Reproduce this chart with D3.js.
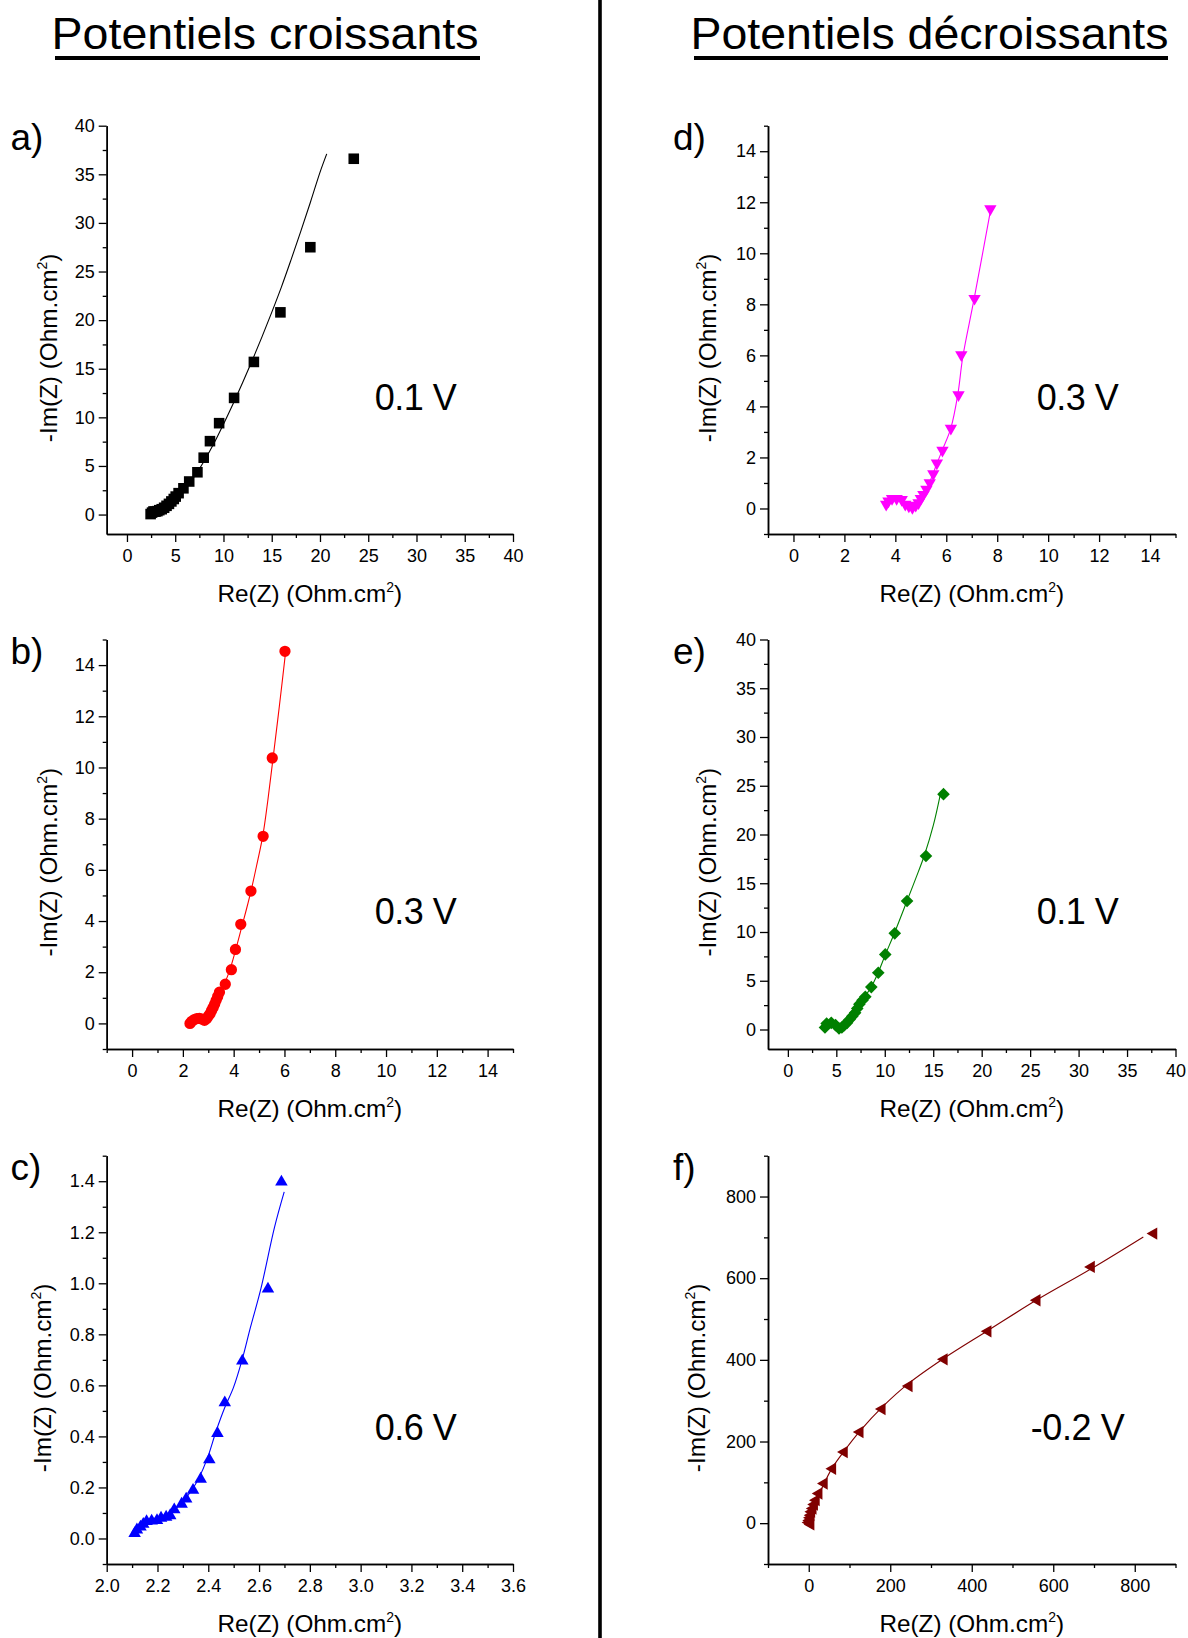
<!DOCTYPE html>
<html><head><meta charset="utf-8">
<script src="https://cdn.jsdelivr.net/npm/d3@7"></script>
<style>
body{margin:0;background:#fff;}
svg text{font-family:"Liberation Sans",Arial,Helvetica,sans-serif;fill:#000;}
</style></head><body>
<svg id="chart" width="1188" height="1638"></svg>
<script>
// ---------- data: [Re(Z), -Im(Z)] in Ohm.cm2 ----------
const pointsA = [[2.45,0.05],[2.6,0.2],[2.75,0.32],[2.95,0.3],[3.15,0.35],[3.35,0.45],[3.6,0.55],[3.85,0.7],[4.1,0.9],[4.35,1.1],[4.6,1.35],[4.85,1.6],[5.05,1.85],[5.35,2.2],[5.85,2.7],[6.45,3.4],[7.3,4.35],[7.95,5.85],[8.6,7.55],[9.55,9.4],[11.1,12.0],[13.15,15.7],[15.9,20.8],[19.0,27.5],[23.5,36.6]];
const fitA = [[2.5,0.05],[3.0,0.2],[3.5,0.45],[4.0,0.75],[4.5,1.1],[5.0,1.55],[5.5,2.05],[6.0,2.6],[6.5,3.25],[7.0,3.95],[7.5,4.7],[8.0,5.5],[9.0,7.3],[10.0,9.3],[11.0,11.4],[12.0,13.6],[13.0,15.9],[14.0,18.3],[15.0,20.8],[16.0,23.4],[17.0,26.2],[18.0,29.1],[19.0,32.1],[20.0,35.2],[20.7,37.1]];

const pointsB = [[2.28,0.0],[2.35,0.08],[2.45,0.15],[2.55,0.19],[2.65,0.2],[2.75,0.17],[2.85,0.12],[2.93,0.18],[3.0,0.28],[3.07,0.38],[3.13,0.5],[3.19,0.62],[3.25,0.75],[3.31,0.9],[3.37,1.05],[3.44,1.22],[3.67,1.53],[3.91,2.1],[4.07,2.89],[4.28,3.87],[4.68,5.17],[5.16,7.31],[5.52,10.37],[6.02,14.54]];
const fitB = [[2.3,0.0],[2.45,0.12],[2.6,0.18],[2.75,0.16],[2.9,0.18],[3.05,0.35],[3.2,0.62],[3.35,0.95],[3.5,1.3],[3.7,1.7],[3.9,2.25],[4.1,2.95],[4.3,3.7],[4.5,4.45],[4.7,5.25],[4.9,6.15],[5.15,7.35],[5.35,8.75],[5.55,10.35],[5.8,12.4],[6.05,14.55]];

const pointsC = [[2.11,0.02],[2.119,0.034],[2.133,0.045],[2.144,0.056],[2.157,0.067],[2.177,0.069],[2.198,0.071],[2.214,0.08],[2.234,0.084],[2.25,0.09],[2.266,0.113],[2.295,0.135],[2.313,0.155],[2.34,0.189],[2.37,0.233],[2.404,0.309],[2.436,0.412],[2.465,0.532],[2.534,0.696],[2.635,0.978],[2.688,1.397]];
const fitC = [[2.112,0.025],[2.146,0.06],[2.173,0.073],[2.214,0.087],[2.255,0.106],[2.295,0.139],[2.336,0.191],[2.363,0.237],[2.397,0.316],[2.431,0.421],[2.465,0.513],[2.499,0.591],[2.534,0.703],[2.566,0.827],[2.607,0.978],[2.661,1.22],[2.699,1.358]];

const pointsD = [[3.64,0.16],[3.73,0.29],[3.87,0.39],[4.05,0.39],[4.25,0.35],[4.39,0.16],[4.53,0.09],[4.67,0.03],[4.8,0.12],[4.91,0.22],[5.0,0.39],[5.1,0.55],[5.22,0.75],[5.35,1.01],[5.49,1.36],[5.63,1.78],[5.85,2.28],[6.18,3.14],[6.48,4.45],[6.59,6.02],[7.11,8.23],[7.73,11.74]];
const fitD = [[3.64,0.16],[3.8,0.35],[4.05,0.4],[4.25,0.33],[4.45,0.12],[4.67,0.04],[4.85,0.16],[5.0,0.38],[5.15,0.62],[5.3,0.92],[5.45,1.28],[5.63,1.76],[5.85,2.3],[6.18,3.15],[6.45,4.45],[6.65,5.95],[7.1,8.25],[7.75,11.75]];

const pointsE = [[3.83,0.2],[4.0,0.62],[4.48,0.68],[4.92,0.45],[5.28,0.1],[5.57,0.2],[5.82,0.45],[6.11,0.68],[6.37,1.03],[6.65,1.37],[6.94,1.71],[7.16,2.16],[7.38,2.6],[7.7,3.0],[7.99,3.36],[8.61,4.35],[9.33,5.82],[10.05,7.7],[11.03,9.86],[12.3,13.18],[14.25,17.8],[16.06,24.14]];
const fitE = [[3.85,0.2],[4.2,0.6],[4.7,0.6],[5.2,0.2],[5.6,0.15],[6.0,0.55],[6.5,1.15],[7.0,1.85],[7.5,2.7],[8.0,3.45],[8.6,4.35],[9.3,5.8],[10.05,7.65],[11.0,9.9],[12.3,13.2],[13.2,15.5],[14.1,17.9],[15.0,20.9],[15.75,24.2]];

const pointsF = [[5,-3],[0,1.6],[1.7,6.5],[3.4,13],[5.2,19.6],[6.9,27.8],[10.3,36],[13.8,45.8],[18.1,56.4],[24.9,72.7],[37.8,97.2],[58.5,133.2],[86.9,174.1],[125.6,223.1],[179.8,279.5],[246.0,335.9],[332.0,401.2],[439.6,469.9],[560.0,545.9],[693.3,627.6],[846.5,709.3]];
const fitF = [[0,0],[4,15],[8,32],[14,48],[22,64],[38,98],[58,136],[88,178],[126,226],[182,286],[246,343],[332,404],[440,472],[560,547],[693,623],[821,701]];

// ---------- tick values ----------
const ticks0to40 = [0,5,10,15,20,25,30,35,40];
const minor0to40 = [2.5,7.5,12.5,17.5,22.5,27.5,32.5,37.5];
const ticks0to14 = [0,2,4,6,8,10,12,14];
const minor0to14 = [-1,1,3,5,7,9,11,13,15];
const ticksCx = [2.0,2.2,2.4,2.6,2.8,3.0,3.2,3.4,3.6];
const minorCx = [2.1,2.3,2.5,2.7,2.9,3.1,3.3,3.5];
const ticksCy = [0.0,0.2,0.4,0.6,0.8,1.0,1.2,1.4];
const minorCy = [-0.1,0.1,0.3,0.5,0.7,0.9,1.1,1.3,1.5];
const ticksF = [0,200,400,600,800];
const minorF = [-100,100,300,500,700,900];

// ---------- labels ----------
const panelLetters = ["a)","b)","c)","d)","e)","f)"];
const potentials = ["0.1 V","0.3 V","0.6 V","0.3 V","0.1 V","-0.2 V"];
const columnTitles = ["Potentiels croissants","Potentiels décroissants"];

// ---------- layout ----------
const colX = [[106.7,513],[768,1175.5]];
const rowY = [[534,125.7],[1049,639.5],[1564,1155.7]];
const yTitleX = [57,57,51,716,716,705];
const letterX = [10.5,10.5,10.5,673,673,673];

const fInt = d3.format("d"), f1 = d3.format(".1f");

const panels = [
  {col:0,row:0,pts:pointsA,fit:fitA,color:"#000000",sym:d3.symbolSquare,size:112,rot:0,
   xd:[-2.1,40],yd:[-2,40],xt:ticks0to40,xm:minor0to40,yt:ticks0to40,ym:minor0to40,xf:fInt,yf:fInt},
  {col:0,row:1,pts:pointsB,fit:fitB,color:"#ff0000",sym:d3.symbolCircle,size:100,rot:0,
   xd:[-1,15],yd:[-1,15],xt:ticks0to14,xm:minor0to14,yt:ticks0to14,ym:minor0to14,xf:fInt,yf:fInt},
  {col:0,row:2,pts:pointsC,fit:fitC,color:"#0000ff",sym:d3.symbolTriangle,size:68,rot:0,
   xd:[2.0,3.6],yd:[-0.1,1.5],xt:ticksCx,xm:minorCx,yt:ticksCy,ym:minorCy,xf:f1,yf:f1},
  {col:1,row:0,pts:pointsD,fit:fitD,color:"#ff00ff",sym:d3.symbolTriangle,size:66,rot:180,
   xd:[-1,15],yd:[-1,15],xt:ticks0to14,xm:minor0to14,yt:ticks0to14,ym:minor0to14,xf:fInt,yf:fInt},
  {col:1,row:1,pts:pointsE,fit:fitE,color:"#008000",sym:d3.symbolSquare,size:80,rot:45,
   xd:[-2.05,40],yd:[-2,40],xt:ticks0to40,xm:minor0to40,yt:ticks0to40,ym:minor0to40,xf:fInt,yf:fInt},
  {col:1,row:2,pts:pointsF,fit:fitF,color:"#800000",sym:d3.symbolTriangle,size:66,rot:-90,
   xd:[-100,900],yd:[-100,900],xt:ticksF,xm:minorF,yt:ticksF,ym:minorF,xf:fInt,yf:fInt}
];

const svg = d3.select("#chart");
svg.append("rect").attr("width",1188).attr("height",1638).attr("fill","#fff");

// column titles & divider
const titleGeom = [{x:51.5,len:427,ul:[55,480]},{x:690.5,len:478,ul:[694,1168]}];
columnTitles.forEach((t,i)=>{
  svg.append("text").attr("x",titleGeom[i].x).attr("y",48.5)
    .attr("font-size",45).attr("textLength",titleGeom[i].len).attr("lengthAdjust","spacingAndGlyphs").text(t);
  svg.append("rect").attr("x",titleGeom[i].ul[0]).attr("y",56).attr("width",titleGeom[i].ul[1]-titleGeom[i].ul[0]).attr("height",4).attr("fill","#000");
});
svg.append("rect").attr("x",598.2).attr("y",0).attr("width",3.6).attr("height",1638).attr("fill","#000");

function styleAxis(g, fs){
  g.attr("font-family",null).attr("font-size",fs);
  g.select(".domain").attr("stroke","#000").attr("stroke-width",1.5);
  g.selectAll(".tick line").attr("stroke","#000").attr("stroke-width",1.3);
  g.selectAll(".tick text").attr("fill","#000");
}

panels.forEach((p,i)=>{
  const x = d3.scaleLinear().domain(p.xd).range(colX[p.col]);
  const y = d3.scaleLinear().domain(p.yd).range(rowY[p.row]);
  const x0 = colX[p.col][0], y0 = rowY[p.row][0], yTop = rowY[p.row][1];
  const g = svg.append("g");

  // minor ticks
  g.append("g").attr("transform",`translate(0,${y0})`)
    .call(d3.axisBottom(x).tickValues(p.xm).tickSize(4).tickSizeOuter(0).tickFormat(""))
    .call(a=>styleAxis(a,18));
  g.append("g").attr("transform",`translate(${x0},0)`)
    .call(d3.axisLeft(y).tickValues(p.ym).tickSize(4).tickSizeOuter(0).tickFormat(""))
    .call(a=>styleAxis(a,18));
  // major ticks
  g.append("g").attr("transform",`translate(0,${y0})`)
    .call(d3.axisBottom(x).tickValues(p.xt).tickSize(8).tickSizeOuter(0).tickPadding(7.5).tickFormat(p.xf))
    .call(a=>styleAxis(a,18));
  g.append("g").attr("transform",`translate(${x0},0)`)
    .call(d3.axisLeft(y).tickValues(p.yt).tickSize(8).tickSizeOuter(0).tickPadding(4).tickFormat(p.yf))
    .call(a=>styleAxis(a,18));

  // fit line
  g.append("path").datum(p.fit)
    .attr("d", d3.line().x(d=>x(d[0])).y(d=>y(d[1])).curve(d3.curveCatmullRom))
    .attr("fill","none").attr("stroke",p.color).attr("stroke-width",1.1);

  // markers
  g.selectAll("path.m").data(p.pts).join("path").attr("class","m")
    .attr("transform",d=>`translate(${x(d[0])},${y(d[1])}) rotate(${p.rot})`)
    .attr("d", d3.symbol(p.sym, p.size))
    .attr("fill",p.color);

  // x title
  const xc = (colX[p.col][0]+colX[p.col][1])/2;
  const xt = g.append("text").attr("x",xc).attr("y",y0+68).attr("text-anchor","middle").attr("font-size",24.3);
  xt.append("tspan").text("Re(Z) (Ohm.cm");
  xt.append("tspan").attr("font-size",14).attr("dy",-10).text("2");
  xt.append("tspan").attr("dy",10).text(")");

  // y title
  const yc = (y0+yTop)/2 + 18;
  const yt = g.append("text").attr("transform",`translate(${yTitleX[i]},${yc}) rotate(-90)`)
    .attr("text-anchor","middle").attr("font-size",24.3);
  yt.append("tspan").text("-Im(Z) (Ohm.cm");
  yt.append("tspan").attr("font-size",14).attr("dy",-10).text("2");
  yt.append("tspan").attr("dy",10).text(")");

  // panel letter
  g.append("text").attr("x",letterX[i]).attr("y",yTop+24).attr("font-size",37).text(panelLetters[i]);

  // potential label
  g.append("text").attr("x",xc+106).attr("y",yTop+284).attr("text-anchor","middle")
    .attr("font-size",36).attr("textLength", i===5?94:82).attr("lengthAdjust","spacing").text(potentials[i]);
});
</script>
</body></html>
